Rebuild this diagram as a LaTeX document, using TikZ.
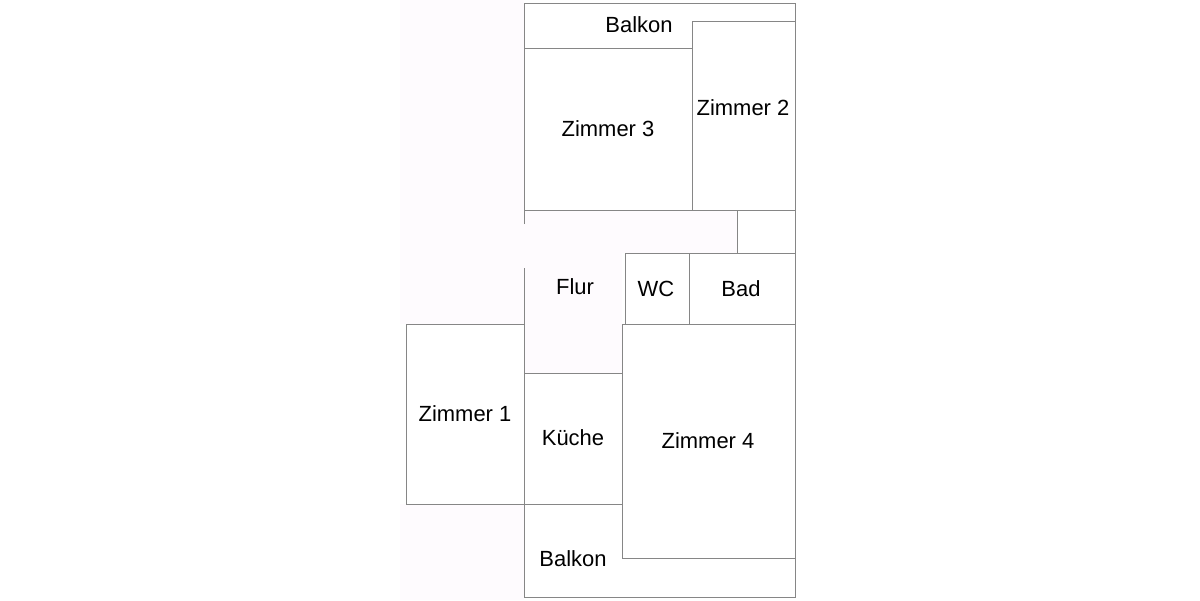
\documentclass[tikz,border=0pt]{standalone}
\usepackage{fontspec}
\setmainfont{Liberation Sans}
\definecolor{flurtint}{HTML}{FEFBFE}
\definecolor{wallgray}{HTML}{868686}
\tikzset{
  wall/.style={draw=wallgray, line width=0.55pt},
  roomlabel/.style={font=\fontsize{12.5}{15}\selectfont, text=black, inner sep=0pt},
}

\begin{document}
\begin{tikzpicture}[x=0.02cm, y=-0.02cm]
      \useasboundingbox (0, 0) rectangle (1200, 600);
      \fill[white] (0, 0) rectangle (1200, 600);
      \fill[flurtint] (400, 0) rectangle (524, 600);
      \fill[flurtint] (524, 210) rectangle (737, 253);
      \fill[flurtint] (524, 253) rectangle (622, 373);
      \fill[white] (400, 324) rectangle (524, 504);
      % outer walls and balconies
      \draw[wall] (524, 224) -- (524, 3) -- (795, 3) -- (795, 597) -- (524, 597) -- (524, 268);
      \draw[wall] (524, 48) -- (692, 48);
      \draw[wall] (692, 210) -- (692, 21) -- (795, 21);
      \draw[wall] (524, 210) -- (795, 210);
      \draw[wall] (737, 210) -- (737, 253);
      % bath and WC
      \draw[wall] (625, 324) -- (625, 253) -- (795, 253);
      \draw[wall] (689, 253) -- (689, 324);
      \draw[wall] (622, 324) -- (795, 324);
      % rooms at the bottom
      \draw[wall] (524, 324) -- (406, 324) -- (406, 504) -- (622, 504);
      \draw[wall] (524, 373) -- (622, 373);
      \draw[wall] (622, 324) -- (622, 558) -- (795, 558);
      \node[roomlabel] (balkontop) at (639, 25) {Balkon};
      \node[roomlabel] (zimmerzwei) at (743, 108) {Zimmer 2};
      \node[roomlabel] (zimmerdrei) at (608, 129) {Zimmer 3};
      \node[roomlabel] (flur) at (575, 287) {Flur};
      \node[roomlabel] (wc) at (656, 289) {WC};
      \node[roomlabel] (bad) at (741, 289) {Bad};
      \node[roomlabel] (zimmereins) at (465, 414) {Zimmer 1};
      \node[roomlabel] (kueche) at (573, 438) {Küche};
      \node[roomlabel] (zimmervier) at (708, 441) {Zimmer 4};
      \node[roomlabel] (balkonbottom) at (573, 559) {Balkon};
    \end{tikzpicture}
\end{document}
